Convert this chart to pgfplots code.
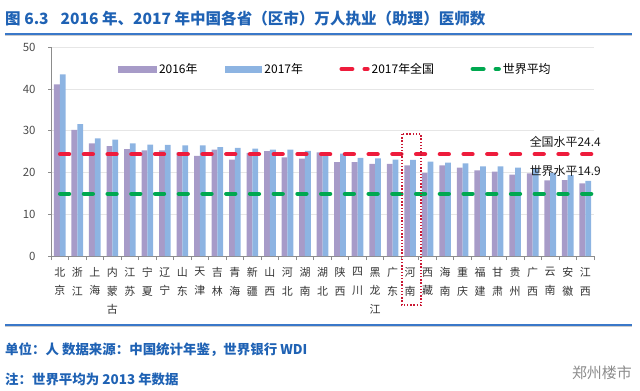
\documentclass[border=0pt]{standalone}
\usepackage{pgfplots}
\pgfplotsset{compat=1.18}
\usepackage{fontspec}
\setmainfont{Noto Sans CJK SC}
\definecolor{cA}{HTML}{A79BC8}
\definecolor{cB}{HTML}{8DB4E2}
\definecolor{cred}{HTML}{EE1C3C}
\definecolor{cgreen}{HTML}{00A850}
\definecolor{axisgray}{HTML}{8C8C8C}
\definecolor{gridgray}{HTML}{E6E6E6}
\definecolor{tblue}{HTML}{1F62B4}
\definecolor{lblue}{HTML}{3A78C9}
\definecolor{labcol}{HTML}{333333}
\begin{document}
\begin{tikzpicture}[x=1bp,y=1bp]
\path[use as bounding box] (0,0) rectangle (640,390);
% title
\node[anchor=west, inner sep=0pt, text=tblue, font=\fontsize{15.6}{18}\selectfont\bfseries] at (5,371) {图 6.3\hspace{12bp}2016 年、2017 年中国各省（区市）万人执业（助理）医师数};
\draw[gray!40, line width=1.5bp] (5,354.5) -- (632,354.5);
\draw[lblue, line width=2bp] (5,356) -- (632,356);
\begin{axis}[
  at={(51bp,134bp)}, anchor=south west,
  scale only axis, width=543bp, height=208.7bp,
  xmin=-0.5, xmax=30.5, ymin=0, ymax=50,
  axis lines=left, axis line style={-, draw=axisgray, line width=0.8bp},
  ytick={0,10,20,30,40,50},
  ymajorgrids, grid style={draw=gridgray, line width=0.8bp},
  xtick={0,...,30},
  xticklabels={{北\\京},{浙\\江},{上\\海},{内\\蒙\\古},{江\\苏},{宁\\夏},{辽\\宁},{山\\东},{天\\津},{吉\\林},{青\\海},{新\\疆},{山\\西},{河\\北},{湖\\南},{湖\\北},{陕\\西},{四\\川},{黑\\龙\\江},{广\\东},{河\\南},{西\\藏},{海\\南},{重\\庆},{福\\建},{甘\\肃},{贵\\州},{广\\西},{云\\南},{安\\徽},{江\\西}},
  minor xtick={-0.5,0.5,1.5,2.5,3.5,4.5,5.5,6.5,7.5,8.5,9.5,10.5,11.5,12.5,13.5,14.5,15.5,16.5,17.5,18.5,19.5,20.5,21.5,22.5,23.5,24.5,25.5,26.5,27.5,28.5,29.5,30.5},
  major x tick style={draw=none},
  minor x tick style={draw=axisgray, line width=0.8bp},
  minor tick length=4bp,
  major tick length=3bp,
  y tick style={draw=axisgray, line width=0.8bp},
  tick align=outside,
  /pgf/number format/assume math mode=true,
  yticklabel style={font=\fontsize{11.5}{13}\selectfont, text=black!70, xshift=-9bp},
  xticklabel style={font=\fontsize{11}{18.5}\selectfont, align=center, text=labcol, anchor=north, yshift=-5bp},
  legend style={at={(0.1234,0.896)}, anchor=west, draw=none, fill=white, inner sep=0pt, outer sep=0pt,
    font=\fontsize{12}{14}\selectfont, legend columns=4,
    /tikz/every even column/.append style={column sep=26bp}},
  legend cell align=left,
  clip=false,
]
\addplot[ybar, bar width=5.8bp, bar shift=-2.9bp, fill=cA, draw=none,
  legend image code/.code={\fill[cA] (0bp,-3.5bp) rectangle (39bp,3.5bp);}]
  coordinates {(0,41.1) (1,30.2) (2,27.0) (3,26.3) (4,25.6) (5,25.3) (6,25.3) (7,24.8) (8,24.0) (9,25.5)
  (10,23.1) (11,24.7) (12,25.1) (13,23.6) (14,23.3) (15,24.8) (16,22.5) (17,22.5) (18,22.1) (19,22.1)
  (20,21.7) (21,19.9) (22,21.7) (23,21.2) (24,20.5) (25,20.2) (26,19.5) (27,19.8) (28,18.1) (29,18.2) (30,17.4)};
\addlegendentry{2016年}
\addplot[ybar, bar width=5.8bp, bar shift=2.9bp, fill=cB, draw=none,
  legend image code/.code={\fill[cB] (0bp,-3.5bp) rectangle (37bp,3.5bp);}]
  coordinates {(0,43.5) (1,31.6) (2,28.2) (3,27.9) (4,27.0) (5,26.7) (6,26.6) (7,26.5) (8,26.5) (9,26.1)
  (10,25.9) (11,25.7) (12,25.5) (13,25.5) (14,25.2) (15,24.7) (16,24.5) (17,23.5) (18,23.4) (19,23.1)
  (20,23.0) (21,22.6) (22,22.4) (23,22.2) (24,21.5) (25,21.5) (26,21.2) (27,21.0) (28,19.9) (29,19.4) (30,18.0)};
\addlegendentry{2017年}
\addplot[draw=cred, line width=4.5bp, line cap=round, dash pattern=on 8.8bp off 14.93bp, dash phase=14.5bp,
  legend image code/.code={\draw[cred, line width=4.5bp, line cap=round, dash pattern=on 10.5bp off 12.5bp] (2.25bp,0bp) -- (36.5bp,0bp);}]
  coordinates {(-0.5,24.4) (30.5,24.4)};
\addlegendentry{2017年全国}
\addplot[draw=cgreen, line width=4.5bp, line cap=round, dash pattern=on 8.8bp off 14.93bp, dash phase=14.5bp,
  legend image code/.code={\draw[cgreen, line width=4.5bp, line cap=round, dash pattern=on 10.5bp off 12.5bp] (2.25bp,0bp) -- (36.5bp,0bp);}]
  coordinates {(-0.5,14.9) (30.5,14.9)};
\addlegendentry{世界平均}
\end{axis}
% annotations
\node[anchor=east, inner sep=0pt, font=\fontsize{12}{14}\selectfont, text=black!90] at (601,248.3) {全国水平24.4};
\node[anchor=east, inner sep=0pt, font=\fontsize{12}{14}\selectfont, text=black!90] at (601,219.3) {世界水平14.9};
% dotted highlight box
\draw[cred!85!black, line width=1.4bp, dash pattern=on 1.4bp off 1.8bp] (402,256) rectangle (421,85);
% footer
\draw[gray!40, line width=1.5bp] (5,63.5) -- (632,63.5);
\draw[lblue, line width=2bp] (5,65) -- (632,65);
\node[anchor=west, inner sep=0pt, text=tblue, font=\fontsize{13.5}{15}\selectfont\bfseries] at (5,40) {单位：人 数据来源：中国统计年鉴，世界银行 WDI};
\node[anchor=west, inner sep=0pt, text=tblue, font=\fontsize{13.5}{15}\selectfont\bfseries] at (5,11) {注：世界平均为 2013 年数据};
\node[anchor=east, inner sep=0pt, text=black!45, font=\fontsize{15}{17}\selectfont] at (632,17) {郑州楼市};
\end{tikzpicture}
\end{document}
